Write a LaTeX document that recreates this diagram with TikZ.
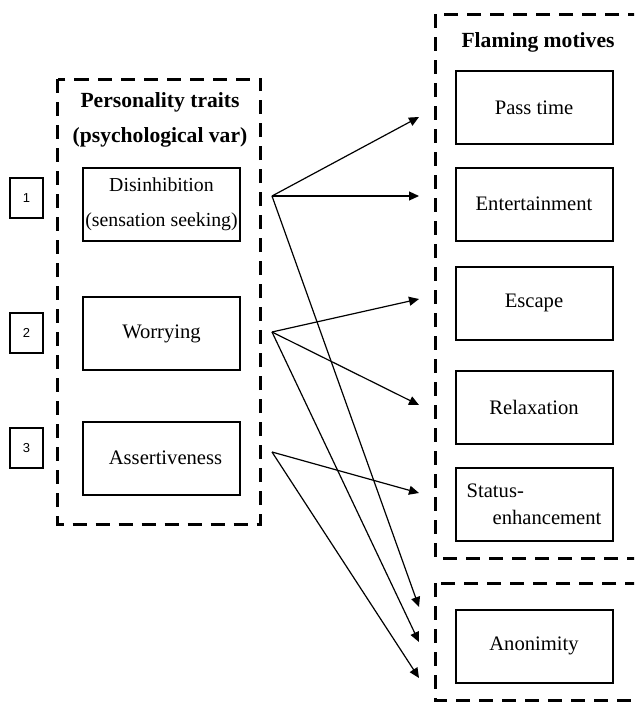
\documentclass[tikz,border=0pt]{standalone}
\usepackage{fontspec}
\setmainfont{Liberation Serif}
\newfontfamily\numfont{Liberation Sans}
\usetikzlibrary{positioning, arrows.meta}

\begin{document}
\begin{tikzpicture}[
  x=0.5pt, y=-0.5pt,
  trait/.style={rectangle, draw, line width=1pt, minimum width=78.5pt, minimum height=36.5pt, inner sep=1pt, align=center, font=\fontsize{10.3}{17.5}\selectfont},
  motive/.style={trait},
  num/.style={rectangle, draw, line width=1pt, minimum width=16.5pt, minimum height=20pt, inner sep=0pt, font=\numfont\fontsize{6.5}{8}\selectfont},
  heading/.style={align=center, font=\bfseries\fontsize{10.8}{17.5}\selectfont},
  group/.style={draw, line width=1.5pt, dash pattern=on 7pt off 4.5pt},
  link/.style={line width=0.6pt, -{Triangle[length=5pt, width=4.5pt]}},
]
  \useasboundingbox (0,0) rectangle (634,702);
  \clip (0,0) rectangle (634,702);

  \draw[group] (57.5,79) rectangle (260.5,524);
  \draw[group] (435,14) rectangle (650,558);
  \draw[group] (435,583) rectangle (650,700);

  \node[heading] (traits) at (160,119.5) {Personality traits\\(psychological var)};
  \node[heading] (motives) at (538,42) {Flaming motives};

  \node[num] (n1) at (26.5,198) {1};
  \node[num] (n2) at (26.5,333) {2};
  \node[num] (n3) at (26.5,448) {3};

  \node[trait, inner xsep=0pt, font=\fontsize{9.9}{17.5}\selectfont] (dis) at (161.5,204.5) {Disinhibition\\(sensation seeking)};
  \node[trait] (wor) at (161.5,333.5) {Worrying};
  \node[trait] (ass) at (161.5,458) {\hspace*{4pt}Assertiveness};

  \node[motive] (pass) at (534,107.5) {Pass time};
  \node[motive] (ent) at (534,204) {Entertainment};
  \node[motive] (esc) at (534,303) {Escape};
  \node[motive] (rel) at (534,407) {Relaxation};
  \node[motive, align=left, font=\fontsize{10.3}{13.5}\selectfont] (stat) at (534,504.5) {Status-\\\hspace*{13pt}enhancement};
  \node[motive] (ano) at (534,646) {Anonimity};

  \coordinate (s1) at (272,196);
  \coordinate (s2) at (272,332);
  \coordinate (s3) at (272,452);
  \coordinate (to-pass) at (419,117);
  \coordinate (to-ent) at (419,196);
  \coordinate (to-esc) at (419,299);
  \coordinate (to-rel) at (419,405);
  \coordinate (to-stat) at (419,493);
  \coordinate (to-ano1) at (419,607);
  \coordinate (to-ano2) at (419,642);
  \coordinate (to-ano3) at (419,678);

  \draw[link] (s1) -- (to-pass);
  \draw[link] (s1) -- (to-ent);
  \draw[link] (s1) -- (to-ano1);
  \draw[link] (s2) -- (to-esc);
  \draw[link] (s2) -- (to-rel);
  \draw[link] (s2) -- (to-ano2);
  \draw[link] (s3) -- (to-stat);
  \draw[link] (s3) -- (to-ano3);
\end{tikzpicture}
\end{document}
